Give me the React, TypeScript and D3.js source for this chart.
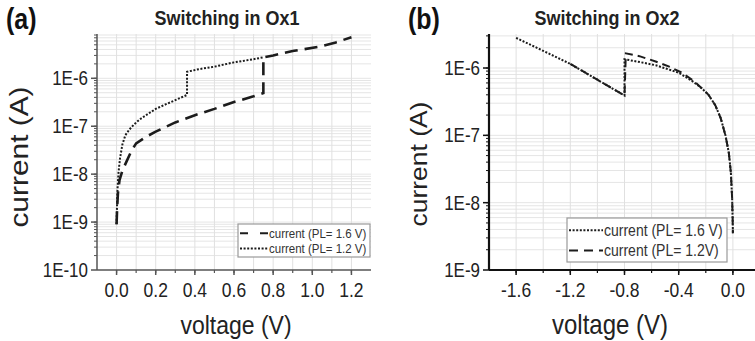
import React from 'react';
import * as d3 from 'd3';

type Pt = [number, number];

// Panel (a) – Switching in Ox1
const ox1PL16: Pt[] = [
  [0, 9e-10], [0.003, 2e-9], [0.007, 4e-9], [0.015, 7.5e-9], [0.03, 1.2e-8], [0.05, 1.8e-8],
  [0.075, 3e-8], [0.1, 4.4e-8], [0.15, 6e-8], [0.2, 7.7e-8], [0.3, 1.2e-7], [0.4, 1.7e-7],
  [0.5, 2.3e-7], [0.6, 3.2e-7], [0.7, 4.2e-7], [0.75, 4.9e-7], [0.75, 2.74e-6], [0.8, 3.0e-6],
  [0.9, 3.7e-6], [1.04, 4.6e-6], [1.12, 5.6e-6], [1.2, 7.2e-6],
];
const ox1PL12: Pt[] = [
  [0, 9e-10], [0.002, 2e-9], [0.005, 5e-9], [0.01, 1.1e-8], [0.018, 2.2e-8], [0.03, 4.2e-8],
  [0.045, 6.5e-8], [0.065, 8.5e-8], [0.09, 1.1e-7], [0.12, 1.4e-7], [0.16, 1.8e-7], [0.2, 2.3e-7],
  [0.25, 2.85e-7], [0.3, 3.5e-7], [0.36, 4.5e-7], [0.36, 1.37e-6], [0.42, 1.55e-6], [0.5, 1.75e-6],
  [0.6, 2.15e-6], [0.7, 2.5e-6], [0.75, 2.74e-6],
];
const ox1XTicks = [0, 0.2, 0.4, 0.6, 0.8, 1.0, 1.2];
const ox1XLabels = ['0.0', '0.2', '0.4', '0.6', '0.8', '1.0', '1.2'];
const ox1YTicks = [1e-10, 1e-9, 1e-8, 1e-7, 1e-6];
const ox1YLabels = ['1E-10', '1E-9', '1E-8', '1E-7', '1E-6'];
const ox1Legend = ['current (PL= 1.6 V)', 'current (PL= 1.2 V)'];

// Panel (b) – Switching in Ox2
const ox2PL16: Pt[] = [
  [-1.6, 2.8e-6], [-1.4, 1.8e-6], [-1.2, 1.15e-6], [-1.0, 6.7e-7], [-0.8, 3.9e-7], [-0.8, 1.35e-6],
  [-0.7, 1.24e-6], [-0.57, 1.1e-6], [-0.4, 8.5e-7], [-0.3, 6.4e-7], [-0.23, 5.0e-7], [-0.18, 4.0e-7],
  [-0.13, 2.8e-7], [-0.09, 1.8e-7], [-0.055, 1.0e-7], [-0.03, 5.5e-8], [-0.015, 2.8e-8],
  [-0.006, 1.2e-8], [-0.002, 6e-9], [0, 3.5e-9],
];
const ox2PL12: Pt[] = [
  [-1.2, 1.15e-6], [-1.0, 6.7e-7], [-0.8, 3.9e-7], [-0.79, 1.65e-6], [-0.69, 1.5e-6], [-0.57, 1.25e-6],
  [-0.47, 1.05e-6], [-0.37, 8.4e-7], [-0.28, 6.2e-7], [-0.22, 4.8e-7], [-0.18, 4.0e-7],
  [-0.13, 2.8e-7], [-0.09, 1.8e-7], [-0.055, 1.0e-7], [-0.03, 5.5e-8], [-0.015, 2.8e-8],
  [-0.006, 1.2e-8], [-0.002, 6e-9], [0, 3.5e-9],
];
const ox2XTicks = [-1.6, -1.2, -0.8, -0.4, 0];
const ox2XLabels = ['-1.6', '-1.2', '-0.8', '-0.4', '0.0'];
const ox2YTicks = [1e-9, 1e-8, 1e-7, 1e-6];
const ox2YLabels = ['1E-9', '1E-8', '1E-7', '1E-6'];
const ox2Legend = ['current (PL= 1.6 V)', 'current (PL= 1.2V)'];

const FONT = "'Liberation Sans', Arial, Helvetica, sans-serif";
const INK = '#1c1c1c';
const SY = 1.15;

interface PanelCfg {
  id: string;
  tag: string;
  tagX: number;
  title: string;
  titleX: number;
  xDomain: [number, number];
  xRange: [number, number];
  yDomain: [number, number];
  xTicks: number[];
  xLabels: string[];
  xMinorStep: number;
  yTicks: number[];
  yLabels: string[];
  axisColor: string;
  axisWidth: number;
  yLabelX: number;
  yLabelY: number;
  yLabelSize: number;
  xLabelX: number;
  xLabelSize: number;
  legend: string[];
  legendBox: [number, number, number, number];
  legendSize: number;
  legendSample: number;
  series: { data: Pt[]; dash: string; width: number }[];
  legendDash: string[];
}

const TOP = 34;
const BOTTOM = 270;

function Panel({ c }: { c: PanelCfg }) {
  const x = d3.scaleLinear().domain(c.xDomain).range(c.xRange);
  const y = d3.scaleLog().domain(c.yDomain).range([BOTTOM, TOP]);
  const x0 = c.xRange[0];
  const x1 = Math.min(c.xRange[1], 755);

  const minorX: number[] = [];
  const n = Math.round((c.xDomain[1] - c.xDomain[0]) / c.xMinorStep);
  for (let i = 1; i < n; i++) minorX.push(+(c.xDomain[0] + i * c.xMinorStep).toFixed(4));

  const minorY: number[] = [];
  const e0 = Math.floor(Math.log10(c.yDomain[0]));
  const e1 = Math.ceil(Math.log10(c.yDomain[1]));
  for (let e = e0; e <= e1; e++) {
    for (let k = 1; k <= 9; k++) {
      const v = k * Math.pow(10, e);
      if (v > c.yDomain[0] * 1.0001 && v < c.yDomain[1]) minorY.push(v);
    }
  }

  const line = d3.line<Pt>().x((d) => x(d[0])).y((d) => y(d[1]));
  const [lx, ly, lw, lh] = c.legendBox;

  return (
    <g>
      <defs>
        <clipPath id={`clip-${c.id}`}>
          <rect x={x0} y={TOP} width={x1 - x0} height={BOTTOM - TOP} />
        </clipPath>
      </defs>
      {/* grid */}
      {minorY.map((v, i) => (
        <line key={`gy${i}`} x1={x0} x2={x1} y1={y(v)} y2={y(v)} stroke="#e5e5e5" strokeWidth={1} />
      ))}
      {minorX.map((v, i) => (
        <line key={`gx${i}`} x1={x(v)} x2={x(v)} y1={TOP} y2={BOTTOM} stroke="#e0e0e0" strokeWidth={1} />
      ))}
      {/* series */}
      <g clipPath={`url(#clip-${c.id})`}>
        {c.series.map((s, i) => (
          <path key={i} d={line(s.data) || ''} fill="none" stroke={INK} strokeWidth={s.width} strokeDasharray={s.dash} />
        ))}
      </g>
      {/* axes */}
      <line x1={x0} x2={x0} y1={TOP} y2={BOTTOM} stroke={c.axisColor} strokeWidth={c.axisWidth} />
      <line x1={x0} x2={x1} y1={BOTTOM} y2={BOTTOM} stroke={c.axisColor} strokeWidth={c.axisWidth} />
      {minorY.map((v, i) => (
        <line key={`ty${i}`} x1={x0 - 3} x2={x0} y1={y(v)} y2={y(v)} stroke={c.axisColor} strokeWidth={1} />
      ))}
      {c.yTicks.map((v, i) => (
        <line key={`tY${i}`} x1={x0 - 6} x2={x0} y1={y(v)} y2={y(v)} stroke={c.axisColor} strokeWidth={1.5} />
      ))}
      {minorX.map((v, i) => (
        <line key={`tx${i}`} x1={x(v)} x2={x(v)} y1={BOTTOM} y2={BOTTOM + 3} stroke={c.axisColor} strokeWidth={1.2} />
      ))}
      {c.xTicks.map((v, i) => (
        <line key={`tX${i}`} x1={x(v)} x2={x(v)} y1={BOTTOM} y2={BOTTOM + 5} stroke={c.axisColor} strokeWidth={1.5} />
      ))}
      {/* tick labels */}
      {c.yTicks.map((v, i) => (
        <text key={`lY${i}`} transform={`translate(${x0 - 9},${y(v)}) scale(1,${SY})`} dy="0.36em" textAnchor="end"
          fontSize={17} fontFamily={FONT} fill="#222">{c.yLabels[i]}</text>
      ))}
      {c.xTicks.map((v, i) => (
        <text key={`lX${i}`} transform={`translate(${x(v)},297) scale(1,${SY})`} textAnchor="middle"
          fontSize={17.5} fontFamily={FONT} fill="#222">{c.xLabels[i]}</text>
      ))}
      {/* axis titles */}
      <text transform={`translate(${c.yLabelX},${c.yLabelY}) rotate(-90) scale(${SY},1)`} textAnchor="middle"
        fontSize={c.yLabelSize} fontFamily={FONT} fill="#222">current (A)</text>
      <text transform={`translate(${c.xLabelX},334) scale(1,${SY})`} textAnchor="middle"
        fontSize={c.xLabelSize} fontFamily={FONT} fill="#222">voltage (V)</text>
      {/* titles */}
      <text transform={`translate(${c.titleX},25) scale(1,${SY})`} textAnchor="middle" fontSize={18}
        fontWeight="bold" fontFamily={FONT} fill="#222">{c.title}</text>
      <text transform={`translate(${c.tagX},29) scale(1,${SY})`} fontSize={25} fontWeight="bold"
        fontFamily={FONT} fill="#111">{c.tag}</text>
      {/* legend */}
      <rect x={lx} y={ly} width={lw} height={lh} fill="#fff" stroke="#9a9a9a" strokeWidth={1.2} />
      {c.legend.map((t, i) => {
        const cy = ly + lh * (i === 0 ? 0.28 : 0.74);
        return (
          <g key={`lg${i}`}>
            <line x1={lx + 2} x2={lx + 2 + c.legendSample} y1={cy} y2={cy} stroke={INK} strokeWidth={2}
              strokeDasharray={c.legendDash[i]} />
            <text transform={`translate(${lx + 3 + c.legendSample},${cy}) scale(1,${SY})`} dy="0.35em"
              fontSize={c.legendSize} fontFamily={FONT} fill="#333">{t}</text>
          </g>
        );
      })}
    </g>
  );
}

const panelA: PanelCfg = {
  id: 'a', tag: '(a)', tagX: 6, title: 'Switching in Ox1', titleX: 227,
  xDomain: [-0.1, 1.3], xRange: [97, 371], yDomain: [1e-10, 8.4e-6],
  xTicks: ox1XTicks, xLabels: ox1XLabels, xMinorStep: 0.1,
  yTicks: ox1YTicks, yLabels: ox1YLabels,
  axisColor: '#555', axisWidth: 1.5,
  yLabelX: 28, yLabelY: 157, yLabelSize: 26, xLabelX: 236, xLabelSize: 23,
  legend: ox1Legend, legendBox: [238, 224, 132, 33], legendSize: 11.5, legendSample: 28,
  series: [
    { data: ox1PL16, dash: '13,7', width: 2.6 },
    { data: ox1PL12, dash: '2,1.6', width: 2 },
  ],
  legendDash: ['8,12', '2,1.6'],
};

const panelB: PanelCfg = {
  id: 'b', tag: '(b)', tagX: 408, title: 'Switching in Ox2', titleX: 607,
  xDomain: [-1.8, 0.2], xRange: [489, 760], yDomain: [1e-9, 3.2e-6],
  xTicks: ox2XTicks, xLabels: ox2XLabels, xMinorStep: 0.2,
  yTicks: ox2YTicks, yLabels: ox2YLabels,
  axisColor: '#111', axisWidth: 2.2,
  yLabelX: 427, yLabelY: 164, yLabelSize: 23, xLabelX: 610, xLabelSize: 24,
  legend: ox2Legend, legendBox: [567, 218, 160, 44], legendSize: 14, legendSample: 34,
  series: [
    { data: ox2PL16, dash: '2,1.6', width: 2 },
    { data: ox2PL12, dash: '8,5', width: 2 },
  ],
  legendDash: ['2,1.6', '9,6'],
};

export default function App() {
  return (
    <svg width={755} height={341} style={{ position: 'fixed', left: 0, top: 0, background: '#fff' }}>
      <rect x={0} y={0} width={755} height={341} fill="#fff" />
      <Panel c={panelA} />
      <Panel c={panelB} />
    </svg>
  );
}
